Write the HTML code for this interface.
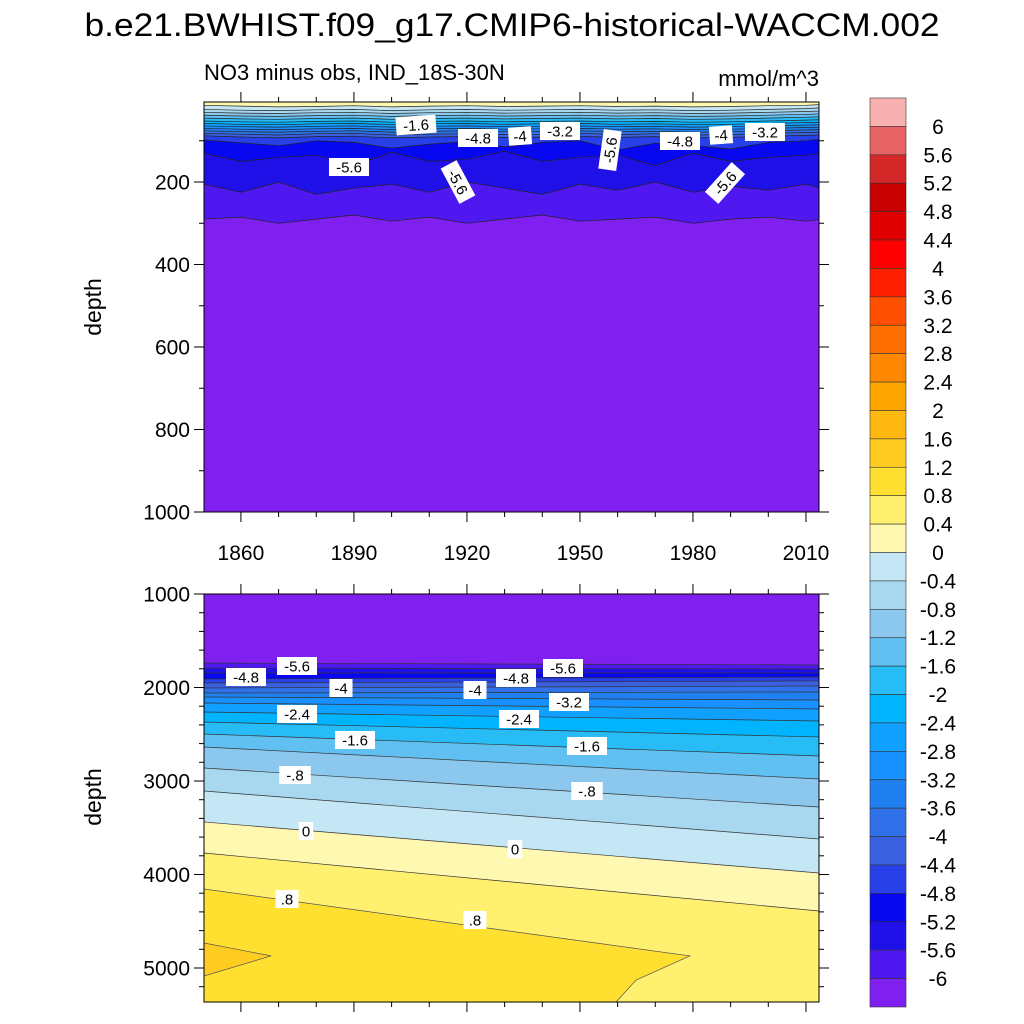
<!DOCTYPE html>
<html><head><meta charset="utf-8"><style>
html,body{margin:0;padding:0;background:#fff;}
svg{display:block;font-family:"Liberation Sans",sans-serif;}
</style></head><body>
<svg id="chart" width="1024" height="1024" viewBox="0 0 1024 1024" xmlns="http://www.w3.org/2000/svg">
<text x="512" y="36" font-size="32" text-anchor="middle" textLength="855" lengthAdjust="spacingAndGlyphs">b.e21.BWHIST.f09_g17.CMIP6-historical-WACCM.002</text>
<text x="204" y="80" font-size="22">NO3 minus obs, IND_18S-30N</text>
<text x="819" y="86" font-size="22" text-anchor="end">mmol/m^3</text>
<text x="0" y="0" font-size="23" text-anchor="middle" transform="translate(101,307) rotate(-90)">depth</text>
<text x="0" y="0" font-size="23" text-anchor="middle" transform="translate(101,797) rotate(-90)">depth</text>
<g id="topPanel"></g>
<g id="botPanel"></g>
<g id="cbar"></g>
</svg>
<script>
const colors = ['#f9b0b0','#e86464','#d42828','#c80000','#e00000','#ff0000','#ff2000','#ff5000','#ff7000','#ff8800','#ffa500','#ffb812','#ffcc22','#ffe030','#fff070','#fff8b0','#c5e6f5','#a8d8ef','#8cc8ee','#60c0f2','#28bcf6','#00b4ff','#10a0ff','#1890ff','#2080f0','#3070e8','#3a60e0','#2840e8','#0808f0','#2010e8','#5018f0','#8020f0'];
const cbarLabels = ['6','5.6','5.2','4.8','4.4','4','3.6','3.2','2.8','2.4','2','1.6','1.2','0.8','0.4','0','-0.4','-0.8','-1.2','-1.6','-2','-2.4','-2.8','-3.2','-3.6','-4','-4.4','-4.8','-5.2','-5.6','-6'];
const xTickLabels = [1860,1890,1920,1950,1980,2010];
const topDepthTicks = [200,400,600,800,1000];
const botDepthTicks = [1000,2000,3000,4000,5000];
const topYears = [1850,1860,1870,1880,1890,1900,1910,1920,1930,1940,1950,1960,1970,1980,1990,2000,2010,2014];
const topLevels = [0,-0.4,-0.8,-1.2,-1.6,-2,-2.4,-2.8,-3.2,-3.6,-4,-4.4,-4.8,-5.2,-5.6,-6];
const topL0 = [14,16,18,17,15,18,16,15,17,16,15,17,16,18,17,15,14,12];
const topL04 = [24,26,27,25,24,27,25,24,26,25,24,26,25,27,26,24,22,20];
const topL08 = [31,33,34,32,31,34,32,31,33,32,31,33,32,34,33,31,29,28];
const topL12 = [38,40,41,39,38,41,39,38,40,39,38,40,39,41,40,38,36,35];
const topL16 = [45,47,48,46,45,48,46,45,47,46,45,47,46,48,47,45,43,42];
const topL20 = [52,54,55,53,52,55,53,52,54,53,52,54,53,55,54,52,50,49];
const topL24 = [58,60,61,59,58,61,59,58,60,59,58,60,59,61,60,58,56,55];
const topL28 = [64,66,67,65,64,67,65,64,66,65,64,66,65,67,66,64,62,61];
const topL32 = [70,72,73,71,70,73,71,70,72,71,70,72,71,73,72,70,68,67];
const topL36 = [76,78,79,77,76,79,77,76,78,77,76,78,77,79,78,76,74,73];
const topL40 = [82,84,86,83,82,86,84,83,85,84,82,85,83,86,85,82,80,79];
const topL44 = [88,91,93,90,89,93,91,90,92,91,89,92,90,93,92,89,87,86];
const topL48 = [98,105,112,100,104,118,108,102,115,104,100,122,106,112,120,104,100,96];
const topL52 = [130,150,140,135,160,128,150,145,125,150,140,135,160,130,150,140,135,130];
const topL56 = [205,225,200,230,215,205,225,200,215,230,205,220,200,225,210,220,205,215];
const topL60 = [290,285,300,290,280,295,285,300,290,280,295,290,285,300,290,285,295,290];
const topDepths = [topL0,topL04,topL08,topL12,topL16,topL20,topL24,topL28,topL32,topL36,topL40,topL44,topL48,topL52,topL56,topL60];
const botLevels = [-6,-5.6,-5.2,-4.8,-4.4,-4,-3.6,-3.2,-2.8,-2.4,-2,-1.6,-1.2,-0.8,-0.4,0,0.4];
const botLeftDepth = [1738,1791,1845,1909,1952,2005,2059,2102,2166,2262,2369,2497,2636,2861,3107,3438,3770];
const botRightDepth = [1759,1802,1845,1888,1930,1984,2048,2134,2230,2358,2529,2733,2979,3278,3620,3984,4390];
const line08Years = [1850.2,1979.2,1964.9,1959.6];
const line08Depths = [4155,4871,5128,5364];
const wedge12Years = [1850.2,1868,1850.2];
const wedge12Depths = [4733,4871,5086];

const NS='http://www.w3.org/2000/svg';
function el(tag, attrs, parent){const e=document.createElementNS(NS,tag);for(const k in attrs)e.setAttribute(k,attrs[k]);parent.appendChild(e);return e;}
const X0=204,X1=819,Y0=1850.2,YR=3.767;
function xs(yr){return X0+(yr-Y0)*YR;}
const TT=102,TB=512; function ysTop(d){return 99.5+d*0.4125;}
const BT=594,BB=1002; function ysBot(d){return 594+(d-1000)*0.0935;}
function band(l){return colors[15-Math.round(l/0.4)];}

const topG=document.getElementById('topPanel');
const cpT=el('clipPath',{id:'cpT'},topG); el('rect',{x:X0,y:TT,width:X1-X0,height:TB-TT},cpT);
const gT=el('g',{'clip-path':'url(#cpT)'},topG);
const bgT=el('rect',{x:X0,y:TT,width:X1-X0,height:TB-TT,fill:colors[31]},gT);


for(let k=topLevels.length-1;k>=0;k--){
  const d=topDepths[k]; let pts=[];
  topYears.forEach((yr,i)=>pts.push(xs(yr).toFixed(1)+','+ysTop(d[i]).toFixed(1)));
  const poly=el('polygon',{points:X0+','+(TT-5)+' '+pts.join(' ')+' '+X1+','+(TT-5),fill:band(topLevels[k])},gT);
  
  
  const ln=el('polyline',{points:pts.join(' '),fill:'none',stroke:'#222','stroke-width':0.7},gT);
  
  
}
const botG=document.getElementById('botPanel');
const cpB=el('clipPath',{id:'cpB'},botG); el('rect',{x:X0,y:BT,width:X1-X0,height:BB-BT},cpB);
const gB=el('g',{'clip-path':'url(#cpB)'},botG);
const bgB=el('rect',{x:X0,y:BT,width:X1-X0,height:BB-BT,fill:colors[31]},gB);


botLevels.forEach((lv,k)=>{
  const yl=ysBot(botLeftDepth[k]), yr=ysBot(botRightDepth[k]);
  const poly=el('polygon',{points:`${X0},${yl} ${X1},${yr} ${X1},${BB+5} ${X0},${BB+5}`,fill:band(lv)},gB);
  
  
  const ln=el('line',{x1:X0,y1:yl,x2:X1,y2:yr,stroke:'#333','stroke-width':0.7},gB);
  
  
});
{
  const pts=line08Years.map((yr,i)=>xs(yr).toFixed(1)+','+ysBot(line08Depths[i]).toFixed(1));
  const p=el('polygon',{points:pts.join(' ')+` ${X0},${BB+5}`,fill:band(0.8)},gB);
  
  
  const l=el('polyline',{points:pts.join(' '),fill:'none',stroke:'#555','stroke-width':0.7},gB);
  
  
  const wp=wedge12Years.map((yr,i)=>xs(yr).toFixed(1)+','+ysBot(wedge12Depths[i]).toFixed(1));
  const w=el('polygon',{points:wp.join(' '),fill:band(1.2),stroke:'#555','stroke-width':0.7},gB);
  
  
}
const topLabels=[['-1.6',416,125,-4],['-4.8',478,138,0],['-4',520,136,-4],['-3.2',560,131,0],['-5.6',349,167,0],['-5.6',458,182,62],['-5.6',610,150,-82],['-4.8',680,141,0],['-4',721,135,-4],['-3.2',765,132,0],['-5.6',725,183,-48]];
const botLabels=[['-4.8',246,677],['-5.6',297,666],['-4',341,688],['-2.4',297,714],['-1.6',355,740],['-.8',295,775],['0',306,831],['.8',287,899],['-4',475,690],['-4.8',516,678],['-5.6',563,668],['-3.2',569,702],['-2.4',519,719],['-1.6',587,746],['-.8',587,791],['0',515,849],['.8',475,920]];
function addLabel(g,t,x,y,r){
  const gg=el('g',{transform:`translate(${x},${y}) rotate(${r||0})`},g);
  
  
  const w=t.length*8.5+6;
  el('rect',{x:-w/2,y:-9,width:w,height:18,fill:'#fff'},gg);
  el('text',{x:0,y:5.5,'font-size':15,'text-anchor':'middle'},gg).textContent=t;
}
topLabels.forEach(a=>addLabel(topG,a[0],a[1],a[2],a[3]));
botLabels.forEach(a=>addLabel(botG,a[0],a[1],a[2],0));
function axes(g,t,b,ticks,ysf,minorStep,lo,hi,bottomLabels){
  const fr=el('rect',{x:X0,y:t,width:X1-X0,height:b-t,fill:'none',stroke:'#000','stroke-width':1},g);
  
  
  for(let yr=1850;yr<=2014;yr+=10){
    const x=xs(yr); if(x<X0||x>X1) continue;
    const L=(xTickLabels.includes(yr))?10:5;
    el('line',{x1:x,y1:t,x2:x,y2:t-L,stroke:'#000'},g);
    el('line',{x1:x,y1:b,x2:x,y2:b+L,stroke:'#000'},g);
  }
  for(let d=lo;d<=hi;d+=minorStep){
    const y=ysf(d); if(y<t-0.5||y>b+0.5) continue;
    const L=ticks.includes(d)?10:5;
    el('line',{x1:X0,y1:y,x2:X0-L,y2:y,stroke:'#000'},g);
    el('line',{x1:X1,y1:y,x2:X1+L,y2:y,stroke:'#000'},g);
  }
  ticks.forEach(d=>{
    const tx=el('text',{x:X0-14,y:ysf(d)+7.5,'font-size':21,'text-anchor':'end'},g);
    tx.textContent=d;
    
    
  });
  if(bottomLabels) xTickLabels.forEach(yr=>{
    const tx=el('text',{x:xs(yr),y:b+48,'font-size':21,'text-anchor':'middle'},g);
    tx.textContent=yr;
    
    
  });
}
axes(topG,TT,TB,topDepthTicks,ysTop,100,0,1000,true);
axes(botG,BT,BB,botDepthTicks,ysBot,200,1000,5400,false);
const cb=document.getElementById('cbar');
const CB0=98,CBH=909/32;
colors.forEach((c,i)=>{
  const r=el('rect',{x:870,y:CB0+i*CBH,width:36,height:CBH,fill:c,stroke:'#333','stroke-width':0.6},cb);
  
  
});
cbarLabels.forEach((t,i)=>{
  const tx=el('text',{x:938,y:CB0+(i+1)*CBH+7.5,'font-size':21,'text-anchor':'middle'},cb);
  tx.textContent=t;
  
  
});
</script>
</body></html>
